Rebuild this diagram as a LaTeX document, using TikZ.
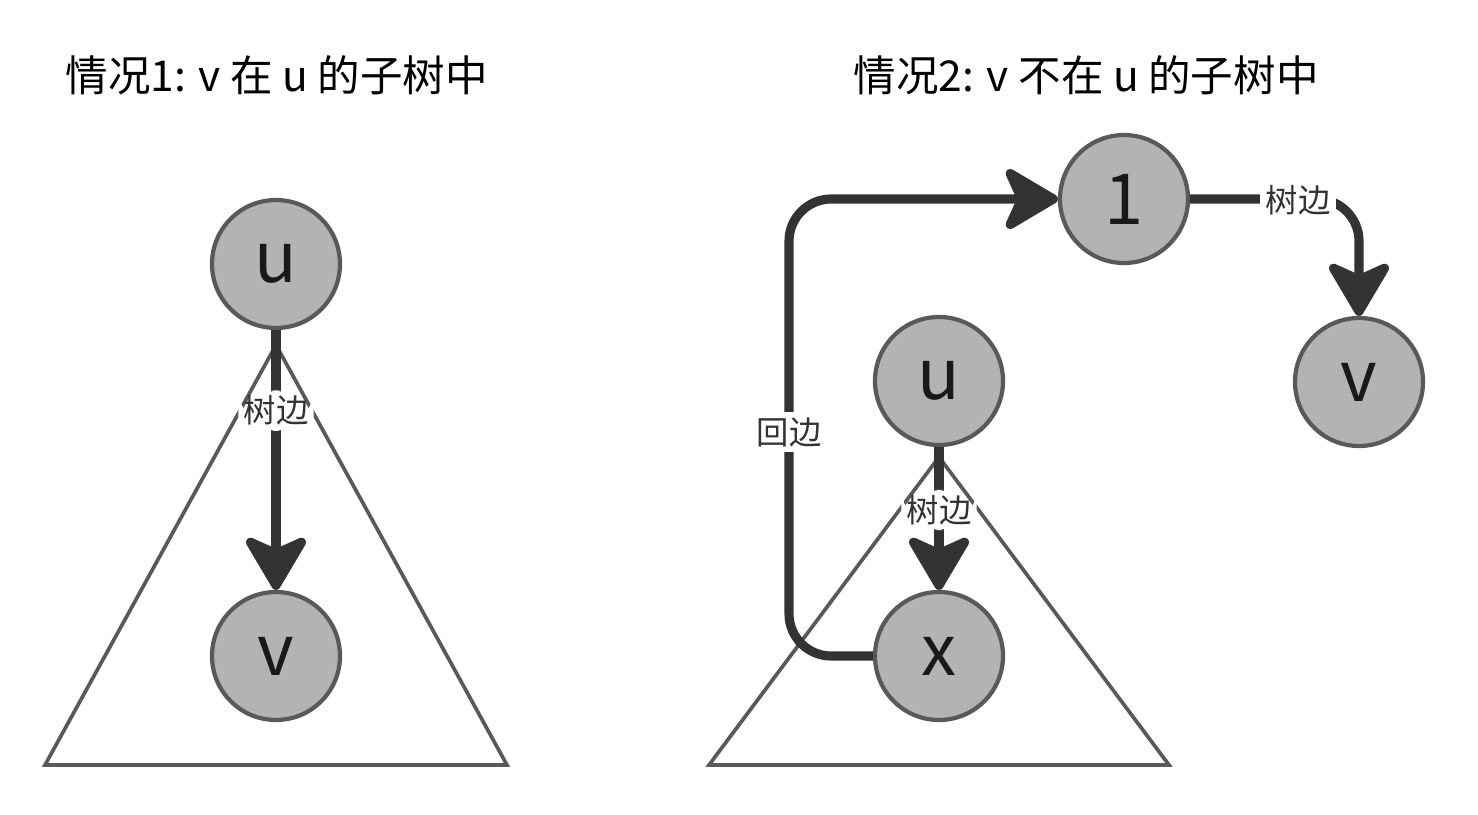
\documentclass[tikz,border=0pt]{standalone}
\usepackage{fontspec}
\setmainfont{Noto Sans CJK SC}
\usepackage{tikz}
\usetikzlibrary{positioning}
\usetikzlibrary{arrows.meta}
\usepackage{xcolor}
\definecolor{nodegray}{HTML}{B3B3B3}
\definecolor{rimgray}{HTML}{595959}
\definecolor{edgedark}{HTML}{333333}

\tikzset{
	vertex/.style={circle, draw=rimgray, line width=1.2pt, fill=nodegray, minimum size=1.28cm, inner sep=0pt, text=black!90, font=\fontsize{20}{20}\selectfont},
	treeedge/.style={draw=edgedark, line width=2.6pt, rounded corners=12pt, -{Stealth[length=17.5pt,width=20.5pt,inset=4.5pt,round]}},
	subtree/.style={draw=rimgray, line width=1.05pt},
	edgelabel/.style={fill=white, inner sep=1.5pt, text=edgedark, font=\fontsize{9.2}{9.2}\selectfont},
	caption/.style={anchor=west, inner sep=0pt, font=\fontsize{12.1}{12.1}\selectfont}
}

\begin{document}
\begin{tikzpicture}
		\useasboundingbox (0,0) rectangle (14.78,-8.14);

		\node[caption](T1) at (0.65,-0.75){情况1: v 在 u 的子树中};
		\node[caption](T2) at (8.53,-0.75){情况2: v 不在 u 的子树中};

		% case 1
		\draw[subtree] (2.76,-3.45) -- (0.45,-7.65) -- (5.07,-7.65) -- cycle;

		\node[vertex](A) at (2.76,-2.64){u};
		\node[vertex](B) at (2.76,-6.56){v};

		\draw[treeedge] (A) -- node[edgelabel, pos=0.31]{树边} (B);

		% case 2
		\draw[subtree] (9.39,-4.57) -- (7.09,-7.65) -- (11.69,-7.65) -- cycle;

		\node[vertex](C) at (11.24,-1.99){1};
		\node[vertex](D) at (13.59,-3.82){v};
		\node[vertex](E) at (9.39,-3.81){u};
		\node[vertex](F) at (9.39,-6.56){x};

		\coordinate(G) at (7.89,-1.99);

		\draw[treeedge] (E) -- node[edgelabel, pos=0.44]{树边} (F);
		\draw[treeedge] (F.west) -| (G) -- (C.west);
		\draw[treeedge] (C.east) -| (D.north);

		\node[edgelabel](H) at (7.89,-4.32){回边};
		\node[edgelabel](I) at (12.98,-2.00){树边};
	\end{tikzpicture}
\end{document}
